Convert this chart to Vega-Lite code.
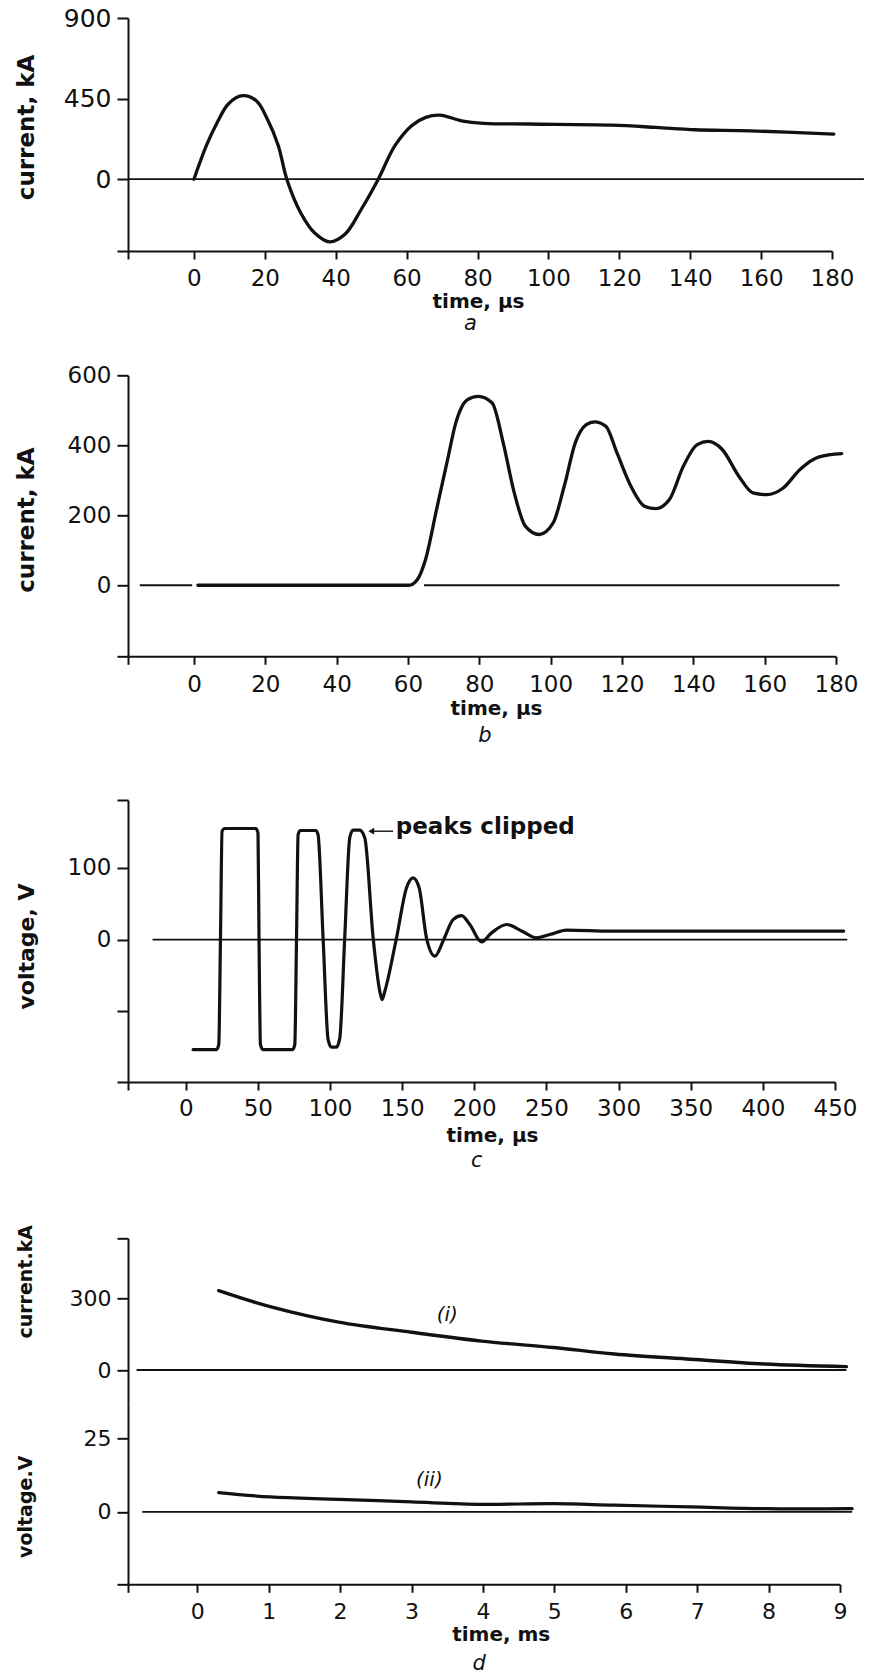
{
  "$schema": "https://vega.github.io/schema/vega-lite/v6.json",
  "background": "white",
  "padding": {"left": 15, "top": 6, "right": 2, "bottom": 2},
  "config": {
    "view": {"stroke": null},
    "font": "DejaVu Sans",
    "axis": {"grid": false, "domainColor": "#111", "domainWidth": 2, "tickColor": "#111", "tickWidth": 2, "labelColor": "#111", "titleColor": "#111", "labelFont": "DejaVu Sans", "titleFont": "DejaVu Sans", "titleFontWeight": "bold", "labelFlush": false, "labelOverlap": false, "labelFontWeight": "normal"},
    "axisY": {"tickSize": 11, "labelPadding": 6, "titleAngle": -90, "titleBaseline": "alphabetic", "titleAlign": "center", "titleX": -94.5},
    "axisX": {"tickSize": 8, "labelPadding": 9, "titleBaseline": "alphabetic", "titleAlign": "center", "titleFontSize": 20}
  },
  "datasets": {
    "a_base": [{"t": -18.6, "t2": 189, "v": 0}],
    "a_curve": [
      {"t": 0, "v": 0}, {"t": 3.5, "v": 187}, {"t": 6.6, "v": 318}, {"t": 9.7, "v": 420}, {"t": 13.6, "v": 466}, {"t": 17.6, "v": 438}, {"t": 20.7, "v": 336}, {"t": 23.8, "v": 187}, {"t": 26.2, "v": 0}, {"t": 30.1, "v": -187}, {"t": 34, "v": -299}, {"t": 38.3, "v": -350}, {"t": 42.6, "v": -308}, {"t": 47.3, "v": -165}, {"t": 52, "v": 0}, {"t": 56.7, "v": 187}, {"t": 61.4, "v": 299}, {"t": 65.4, "v": 345}, {"t": 69.3, "v": 358}, {"t": 75.5, "v": 326}, {"t": 81.8, "v": 312}, {"t": 94.4, "v": 308}, {"t": 117.9, "v": 302}, {"t": 130.4, "v": 289}, {"t": 141.4, "v": 276}, {"t": 157, "v": 270}, {"t": 180.5, "v": 252}
    ],
    "b_base": [{"t": -15.2, "t2": -0.5, "v": 0}, {"t": 64.5, "t2": 181, "v": 0}],
    "b_curve": [
      {"t": 1.1, "v": 0}, {"t": 30, "v": 0}, {"t": 60.2, "v": 0}, {"t": 62.6, "v": 16}, {"t": 64.9, "v": 73}, {"t": 68, "v": 216}, {"t": 71.1, "v": 359}, {"t": 73.4, "v": 464}, {"t": 76.6, "v": 530}, {"t": 79.7, "v": 540}, {"t": 83.6, "v": 521}, {"t": 86.7, "v": 407}, {"t": 89.8, "v": 264}, {"t": 92.9, "v": 169}, {"t": 96.8, "v": 145}, {"t": 100.7, "v": 178}, {"t": 103.8, "v": 283}, {"t": 106.9, "v": 407}, {"t": 110, "v": 459}, {"t": 112.3, "v": 467}, {"t": 115.5, "v": 454}, {"t": 118.6, "v": 378}, {"t": 122.5, "v": 283}, {"t": 126.3, "v": 226}, {"t": 129.5, "v": 219}, {"t": 133.3, "v": 245}, {"t": 137.2, "v": 340}, {"t": 141.1, "v": 402}, {"t": 144.2, "v": 411}, {"t": 148.1, "v": 388}, {"t": 152.8, "v": 311}, {"t": 156.7, "v": 264}, {"t": 160.6, "v": 259}, {"t": 165.2, "v": 278}, {"t": 169.9, "v": 331}, {"t": 175.3, "v": 367}, {"t": 181.6, "v": 376}
    ],
    "c_base": [{"t": -23, "t2": 458.5, "v": 0}],
    "c_curve": [
      {"t": 5.1, "v": -153.5}, {"t": 21.3, "v": -153.5}, {"t": 22.9, "v": -146.5}, {"t": 24.1, "v": 2.4}, {"t": 25.2, "v": 151}, {"t": 27, "v": 154.8}, {"t": 48.5, "v": 154.8}, {"t": 50.1, "v": 148.8}, {"t": 50.8, "v": 2.4}, {"t": 51.8, "v": -146.5}, {"t": 53.6, "v": -153.5}, {"t": 74, "v": -153.5}, {"t": 75.6, "v": -146.5}, {"t": 76.8, "v": 2.4}, {"t": 77.9, "v": 146.5}, {"t": 79.5, "v": 152}, {"t": 90.1, "v": 152}, {"t": 91.7, "v": 146.5}, {"t": 95.2, "v": 2.4}, {"t": 98.7, "v": -139.5}, {"t": 101, "v": -150}, {"t": 104.5, "v": -150}, {"t": 106.8, "v": -137}, {"t": 110.2, "v": 2.4}, {"t": 113.7, "v": 141.9}, {"t": 116, "v": 152.6}, {"t": 120.6, "v": 152.6}, {"t": 124.1, "v": 141.9}, {"t": 129.9, "v": 2.4}, {"t": 134.5, "v": -72}, {"t": 136.1, "v": -83.7}, {"t": 138, "v": -72}, {"t": 146.1, "v": 2.4}, {"t": 153, "v": 72}, {"t": 157.6, "v": 86}, {"t": 161.8, "v": 72}, {"t": 166.9, "v": 2}, {"t": 172.7, "v": -23.2}, {"t": 178.4, "v": -2}, {"t": 185.3, "v": 27.9}, {"t": 191.2, "v": 33.5}, {"t": 196.9, "v": 21}, {"t": 205, "v": -3.2}, {"t": 212, "v": 9.3}, {"t": 222.4, "v": 21}, {"t": 233.1, "v": 11.7}, {"t": 242.8, "v": 2.4}, {"t": 252.4, "v": 7}, {"t": 264, "v": 13.1}, {"t": 294.8, "v": 11.7}, {"t": 456, "v": 11.7}
    ],
    "c_note": [{"t": 145.6, "v": 147.6, "label": "peaks clipped"}],
    "c_arrow": [{"t": 128, "t2": 143.7, "v": 151}],
    "c_head": [{"t": 128.6, "v": 151}],
    "d_ibase": [{"t": -0.85, "t2": 9.09, "v": 0}],
    "d_icurve": [
      {"t": 0.3, "v": 332}, {"t": 1.02, "v": 265}, {"t": 1.98, "v": 200}, {"t": 3.0, "v": 158}, {"t": 3.98, "v": 121}, {"t": 4.99, "v": 94}, {"t": 5.84, "v": 67}, {"t": 6.91, "v": 45}, {"t": 7.94, "v": 25}, {"t": 9.09, "v": 14}
    ],
    "d_ilabel": [{"t": 3.5, "v": 230, "label": "(i)"}],
    "d_vbase": [{"t": -0.77, "t2": 9.17, "v": 0}],
    "d_vcurve": [
      {"t": 0.3, "v": 6.6}, {"t": 1.02, "v": 5.1}, {"t": 1.98, "v": 4.3}, {"t": 3.0, "v": 3.4}, {"t": 3.98, "v": 2.6}, {"t": 4.99, "v": 2.8}, {"t": 5.84, "v": 2.3}, {"t": 6.91, "v": 1.7}, {"t": 7.94, "v": 1.1}, {"t": 9.17, "v": 1.1}
    ],
    "d_vlabel": [{"t": 3.25, "v": 11, "label": "(ii)"}]
  },
  "spacing": 43,
  "vconcat": [
    {
      "spacing": 30.3,
      "vconcat": [
        {
          "width": 704, "height": 233,
          "title": {"text": "a", "orient": "bottom", "frame": "group", "anchor": "middle", "offset": 2, "dx": -9.5, "fontSize": 21, "fontStyle": "italic", "fontWeight": "normal", "color": "#111"},
          "encoding": {
            "x": {"field": "t", "type": "quantitative", "scale": {"domain": [-18.6, 180], "nice": false, "zero": false},
                  "axis": {"title": "time, μs", "values": [-18.6, 0, 20, 40, 60, 80, 100, 120, 140, 160, 180], "labelExpr": "datum.value < -1 ? '' : datum.label", "labelFontSize": 23, "labelPadding": 8, "titleX": 350, "titleY": 56}},
            "y": {"field": "v", "type": "quantitative", "scale": {"domain": [-401, 900], "nice": false, "zero": false},
                  "axis": {"title": "current, kA", "values": [-401, 0, 450, 900], "labelExpr": "datum.value < 0 ? '' : datum.label", "labelFontSize": 25, "titleFontSize": 23, "titleY": 109}}
          },
          "layer": [
            {"data": {"name": "a_base"}, "mark": {"type": "rule", "strokeWidth": 1.8, "color": "#111"}, "encoding": {"x2": {"field": "t2"}}},
            {"data": {"name": "a_curve"}, "mark": {"type": "line", "interpolate": "catmull-rom", "strokeWidth": 3.3, "color": "#111", "strokeJoin": "round", "strokeCap": "round"}}
          ]
        },
        {
          "width": 708, "height": 281,
          "title": {"text": "b", "orient": "bottom", "frame": "group", "anchor": "middle", "offset": 6, "dx": 3, "fontSize": 21, "fontStyle": "italic", "fontWeight": "normal", "color": "#111"},
          "encoding": {
            "x": {"field": "t", "type": "quantitative", "scale": {"domain": [-18.5, 180], "nice": false, "zero": false},
                  "axis": {"title": "time, μs", "values": [-18.5, 0, 20, 40, 60, 80, 100, 120, 140, 160, 180], "labelExpr": "datum.value < -1 ? '' : datum.label", "labelFontSize": 23, "titleX": 368, "titleY": 58.3}},
            "y": {"field": "v", "type": "quantitative", "scale": {"domain": [-203, 600], "nice": false, "zero": false},
                  "axis": {"title": "current, kA", "values": [-203, 0, 200, 400, 600], "labelExpr": "datum.value < 0 ? '' : datum.label", "labelFontSize": 23, "titleFontSize": 23, "titleY": 144.3}}
          },
          "layer": [
            {"data": {"name": "b_base"}, "mark": {"type": "rule", "strokeWidth": 1.8, "color": "#111"}, "encoding": {"x2": {"field": "t2"}}},
            {"data": {"name": "b_curve"}, "mark": {"type": "line", "interpolate": "monotone", "strokeWidth": 3.3, "color": "#111", "strokeJoin": "round", "strokeCap": "round"}}
          ]
        }
      ]
    },
    {
      "spacing": 53.3,
      "vconcat": [
        {
          "width": 707, "height": 282,
          "title": {"text": "c", "orient": "bottom", "frame": "group", "anchor": "middle", "offset": 4.4, "dx": -4.7, "fontSize": 21, "fontStyle": "italic", "fontWeight": "normal", "color": "#111"},
          "encoding": {
            "x": {"field": "t", "type": "quantitative", "scale": {"domain": [-40, 450], "nice": false, "zero": false},
                  "axis": {"title": "time, μs", "values": [-40, 0, 50, 100, 150, 200, 250, 300, 350, 400, 450], "labelExpr": "datum.value < -1 ? '' : datum.label", "labelFontSize": 23, "labelPadding": 7, "titleX": 364, "titleY": 59.3}},
            "y": {"field": "v", "type": "quantitative", "scale": {"domain": [-198.5, 194.5], "nice": false, "zero": false},
                  "axis": {"title": "voltage, V", "values": [-198.5, -100, 0, 100, 194.5], "labelExpr": "datum.value == 0 || datum.value == 100 ? datum.label : ''", "labelFontSize": 23, "titleFontSize": 22, "titleY": 146}}
          },
          "layer": [
            {"data": {"name": "c_base"}, "mark": {"type": "rule", "strokeWidth": 1.8, "color": "#111"}, "encoding": {"x2": {"field": "t2"}}},
            {"data": {"name": "c_curve"}, "mark": {"type": "line", "interpolate": "monotone", "strokeWidth": 3.2, "color": "#111", "strokeJoin": "round", "strokeCap": "round"}},
            {"data": {"name": "c_arrow"}, "mark": {"type": "rule", "strokeWidth": 1.4, "color": "#111"}, "encoding": {"x2": {"field": "t2"}}},
            {"data": {"name": "c_head"}, "mark": {"type": "point", "shape": "triangle-left", "filled": true, "size": 45, "color": "#111", "opacity": 1}},
            {"data": {"name": "c_note"}, "mark": {"type": "text", "align": "left", "baseline": "alphabetic", "fontSize": 23, "fontWeight": "bold", "color": "#111"}, "encoding": {"text": {"field": "label"}}}
          ]
        },
        {
          "spacing": 0,
          "vconcat": [
            {
              "width": 712, "height": 166,
              "encoding": {
                "x": {"field": "t", "type": "quantitative", "scale": {"domain": [-0.97, 9], "nice": false, "zero": false}, "axis": null},
                "y": {"field": "v", "type": "quantitative", "scale": {"domain": [-143.5, 551], "nice": false, "zero": false},
                      "axis": {"title": "current.kA", "values": [0, 300, 551], "labelExpr": "datum.value > 500 ? '' : datum.label", "labelFontSize": 22, "titleFontSize": 19, "titleX": -97, "titleY": 43}}
              },
              "layer": [
                {"data": {"name": "d_ibase"}, "mark": {"type": "rule", "strokeWidth": 1.8, "color": "#111"}, "encoding": {"x2": {"field": "t2"}}},
                {"data": {"name": "d_icurve"}, "mark": {"type": "line", "interpolate": "catmull-rom", "strokeWidth": 3.4, "color": "#111", "strokeCap": "round"}},
                {"data": {"name": "d_ilabel"}, "mark": {"type": "text", "align": "center", "baseline": "middle", "fontSize": 20, "fontStyle": "italic", "color": "#111"}, "encoding": {"text": {"field": "label"}}}
              ]
            },
            {
              "width": 712, "height": 180,
              "title": {"text": "d", "orient": "bottom", "frame": "group", "anchor": "middle", "offset": 9, "dx": -4.8, "fontSize": 21, "fontStyle": "italic", "fontWeight": "normal", "color": "#111"},
              "encoding": {
                "x": {"field": "t", "type": "quantitative", "scale": {"domain": [-0.97, 9], "nice": false, "zero": false},
                      "axis": {"title": "time, ms", "values": [-0.97, 0, 1, 2, 3, 4, 5, 6, 7, 8, 9], "labelExpr": "datum.value < -0.5 ? '' : datum.label", "labelFontSize": 22, "titleX": 372.7, "titleY": 56}},
                "y": {"field": "v", "type": "quantitative", "scale": {"domain": [-24.6, 36.6], "nice": false, "zero": false},
                      "axis": {"title": "voltage.V", "values": [-24.6, 0, 25], "labelExpr": "datum.value < 0 ? '' : datum.label", "labelFontSize": 22, "titleFontSize": 19, "titleX": -97, "titleY": 102}}
              },
              "layer": [
                {"data": {"name": "d_vbase"}, "mark": {"type": "rule", "strokeWidth": 1.8, "color": "#111"}, "encoding": {"x2": {"field": "t2"}}},
                {"data": {"name": "d_vcurve"}, "mark": {"type": "line", "interpolate": "catmull-rom", "strokeWidth": 3.2, "color": "#111", "strokeCap": "round"}},
                {"data": {"name": "d_vlabel"}, "mark": {"type": "text", "align": "center", "baseline": "middle", "fontSize": 20, "fontStyle": "italic", "color": "#111"}, "encoding": {"text": {"field": "label"}}}
              ]
            }
          ]
        }
      ]
    }
  ]
}
